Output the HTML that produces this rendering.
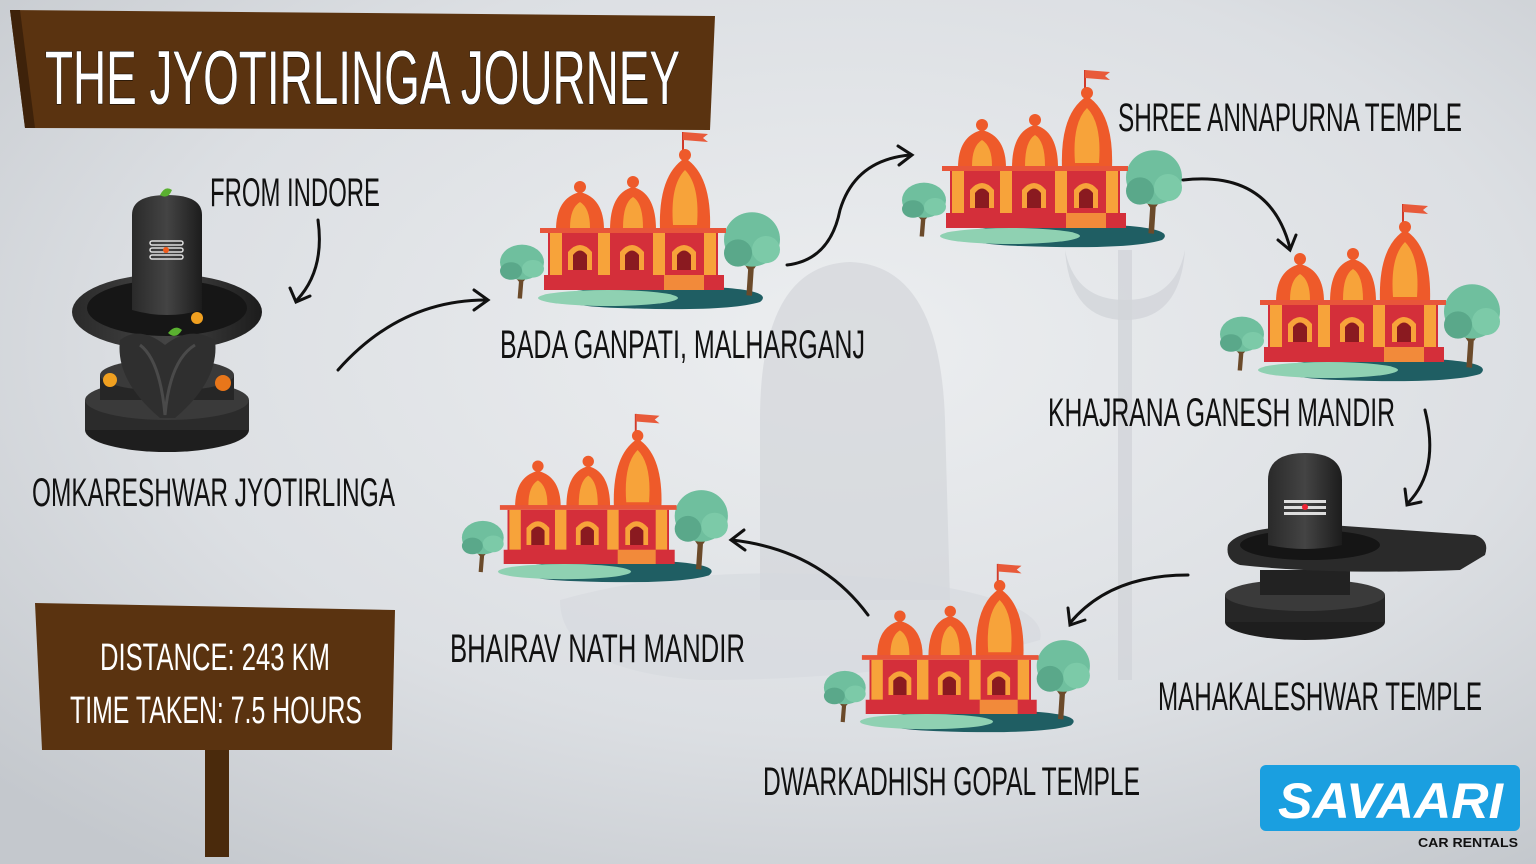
<!DOCTYPE html>
<html><head><meta charset="utf-8"><style>
html,body{margin:0;padding:0;width:1536px;height:864px;overflow:hidden}
svg{display:block}
text{font-family:"Liberation Sans",sans-serif;}
</style></head><body>
<svg width="1536" height="864" viewBox="0 0 1536 864" xmlns="http://www.w3.org/2000/svg">
<defs>
<radialGradient id="bg" cx="0.55" cy="0.4" r="0.75">
<stop offset="0" stop-color="#eceef0"/><stop offset="0.6" stop-color="#dcdfe3"/><stop offset="1" stop-color="#c4c8cd"/>
</radialGradient>
<linearGradient id="blk" x1="0" x2="1"><stop offset="0" stop-color="#2a2a2a"/><stop offset="0.5" stop-color="#444"/><stop offset="1" stop-color="#1c1c1c"/></linearGradient>
<g id="tree">
<path d="M18 55 L20 30 M20 40 L10 28 M20 38 L30 26" stroke="#6b4a2a" stroke-width="4" fill="none"/>
<ellipse cx="20" cy="22" rx="20" ry="16" fill="#6fbf9e"/>
<ellipse cx="10" cy="30" rx="10" ry="8" fill="#5aa88a"/>
<ellipse cx="30" cy="28" rx="10" ry="8" fill="#7ccaa8"/>
</g>
<g id="temple">
<path d="M60 165 Q120 150 230 158 Q275 162 262 172 Q230 182 120 178 Q60 176 60 165Z" fill="#1f5e63"/>
<ellipse cx="110" cy="168" rx="70" ry="8" fill="#8fd1b2"/>
<use href="#tree" transform="translate(2,108) scale(1.1)"/>
<use href="#tree" transform="translate(226,72) scale(1.4,1.7)"/>
<line x1="185" y1="2" x2="185" y2="25" stroke="#d03a2a" stroke-width="2"/>
<path d="M185 2 L210 4 L205 8 L210 12 L185 10Z" fill="#e85a3a"/>
<path d="M162 100 Q160 45 187 28 Q214 45 212 100Z" fill="#ee5a2a"/>
<path d="M175 95 Q172 55 187 40 Q202 55 199 95Z" fill="#f7a33a"/>
<circle cx="187" cy="25" r="6" fill="#ee5a2a"/>
<path d="M58 100 Q58 68 82 62 Q106 68 106 100Z" fill="#ee5a2a"/>
<path d="M112 100 Q112 63 135 57 Q158 63 158 100Z" fill="#ee5a2a"/>
<path d="M72 98 Q72 78 82 72 Q92 78 92 98Z" fill="#f7a33a"/>
<path d="M125 98 Q125 73 135 67 Q145 73 145 98Z" fill="#f7a33a"/>
<circle cx="82" cy="57" r="6" fill="#ee5a2a"/><circle cx="135" cy="52" r="6" fill="#ee5a2a"/>
<rect x="42" y="98" width="186" height="5" fill="#e8553a"/>
<rect x="50" y="103" width="170" height="45" fill="#d42f3a"/>
<rect x="52" y="103" width="12" height="42" fill="#f7a33a"/>
<rect x="100" y="103" width="12" height="42" fill="#f7a33a"/>
<rect x="155" y="103" width="12" height="42" fill="#f7a33a"/>
<rect x="206" y="103" width="12" height="42" fill="#f7a33a"/>
<path d="M70 140 L70 122 Q82 108 94 122 L94 140Z" fill="#f7a33a"/>
<path d="M122 140 L122 122 Q134 108 146 122 L146 140Z" fill="#f7a33a"/>
<path d="M174 140 L174 122 Q186 108 198 122 L198 140Z" fill="#f7a33a"/>
<path d="M75 140 L75 125 Q82 116 89 125 L89 140Z" fill="#8a1a20"/>
<path d="M127 140 L127 125 Q134 116 141 125 L141 140Z" fill="#8a1a20"/>
<path d="M179 140 L179 125 Q186 116 193 125 L193 140Z" fill="#8a1a20"/>
<rect x="46" y="145" width="180" height="15" fill="#d42f3a"/>
<rect x="166" y="145" width="40" height="15" fill="#f28a3a"/>
</g>
</defs>
<rect width="1536" height="864" fill="url(#bg)"/>
<!-- background silhouettes -->
<path d="M760 420 Q760 265 850 262 Q940 265 945 420 L950 600 L760 600Z" fill="#d3d6da" opacity="0.7"/>
<path d="M560 600 Q700 560 900 580 Q1050 600 1040 640 Q900 680 700 680 Q560 670 560 600Z" fill="#d6d9dd" opacity="0.6"/>
<rect x="1118" y="250" width="14" height="430" fill="#d2d5d9" opacity="0.8"/>
<path d="M1065 250 Q1070 320 1125 320 Q1180 320 1185 250 Q1175 300 1125 300 Q1075 300 1065 250Z" fill="#d2d5d9" opacity="0.8"/>
<!-- title board -->
<path d="M10 10 L715 16 L710 130 L25 128Z" fill="#5a3310"/>
<path d="M10 10 L20 10 L35 128 L25 128Z" fill="#3e220a"/>
<text x="45" y="104" font-size="76" fill="#fff" textLength="635" lengthAdjust="spacingAndGlyphs" stroke="#000" stroke-width="1" paint-order="stroke">THE JYOTIRLINGA JOURNEY</text>
<!-- lingam 1 -->
<ellipse cx="167" cy="430" rx="82" ry="22" fill="#1e1e1e"/>
<rect x="85" y="400" width="164" height="30" fill="#2b2b2b"/>
<ellipse cx="167" cy="400" rx="82" ry="20" fill="#3a3a3a"/>
<rect x="100" y="375" width="134" height="25" fill="#262626"/>
<ellipse cx="167" cy="375" rx="67" ry="16" fill="#3a3a3a"/>
<ellipse cx="167" cy="312" rx="95" ry="38" fill="url(#blk)"/>
<ellipse cx="167" cy="308" rx="80" ry="28" fill="#161616"/>
<path d="M120 340 Q140 325 165 345 Q190 325 215 340 Q220 380 175 418 L160 418 Q115 380 120 340Z" fill="#2f2f2f"/>
<path d="M140 345 Q160 360 165 415 Q170 360 195 345" fill="none" stroke="#4a4a4a" stroke-width="3"/>
<path d="M132 310 L132 215 Q132 195 167 195 Q202 195 202 215 L202 310 Q167 320 132 310Z" fill="url(#blk)"/>
<rect x="150" y="241" width="33" height="4" rx="2" fill="none" stroke="#ddd" stroke-width="1.5"/>
<rect x="150" y="248" width="33" height="4" rx="2" fill="none" stroke="#ddd" stroke-width="1.5"/>
<rect x="150" y="255" width="33" height="4" rx="2" fill="none" stroke="#ddd" stroke-width="1.5"/>
<circle cx="166" cy="250" r="3" fill="#f05a1a"/>
<path d="M160 195 Q165 185 172 190 Q168 200 160 195Z" fill="#5ab030"/>
<circle cx="197" cy="318" r="6" fill="#f0a020"/><circle cx="110" cy="380" r="7" fill="#f0a020"/><circle cx="223" cy="383" r="8" fill="#e8761a"/>
<path d="M168 333 Q175 324 182 330 Q176 340 168 333Z" fill="#5ab030"/>
<!-- lingam 2 -->
<ellipse cx="1305" cy="622" rx="80" ry="18" fill="#1e1e1e"/>
<rect x="1225" y="595" width="160" height="27" fill="#262626"/>
<ellipse cx="1305" cy="595" rx="80" ry="16" fill="#3a3a3a"/>
<rect x="1260" y="570" width="90" height="25" fill="#222"/>
<path d="M1228 545 Q1240 525 1330 525 L1475 535 Q1490 540 1485 555 L1460 570 Q1330 575 1240 565 Q1225 560 1228 545Z" fill="#2a2a2a"/>
<ellipse cx="1310" cy="545" rx="70" ry="15" fill="#151515"/>
<path d="M1268 545 L1268 480 Q1268 453 1305 453 Q1342 453 1342 480 L1342 545 Q1305 553 1268 545Z" fill="url(#blk)"/>
<rect x="1284" y="500" width="42" height="3" fill="#ddd"/><rect x="1284" y="506" width="42" height="3" fill="#ddd"/><rect x="1284" y="512" width="42" height="3" fill="#ddd"/>
<circle cx="1305" cy="507" r="3" fill="#e23"/>
<!-- temples -->
<use href="#temple" transform="translate(498,130)"/>
<use href="#temple" transform="translate(900,68)"/>
<use href="#temple" transform="translate(1218,202)"/>
<use href="#temple" transform="translate(460,412) scale(0.95)"/>
<use href="#temple" transform="translate(822,562) scale(0.95)"/>
<!-- arrows -->
<g stroke="#111" stroke-width="3" fill="none" stroke-linecap="round">
<path d="M318 220 Q325 270 297 300"/><path d="M290 288 L296 302 L310 296"/>
<path d="M338 370 Q400 300 486 300"/><path d="M474 290 L488 300 L474 310"/>
<path d="M787 265 Q830 260 840 210 Q855 160 910 155"/><path d="M898 146 L912 155 L899 165"/>
<path d="M1183 180 Q1270 170 1290 248"/><path d="M1278 240 L1290 250 L1296 235"/>
<path d="M1425 410 Q1440 470 1408 503"/><path d="M1405 489 L1407 505 L1421 502"/>
<path d="M1188 575 Q1110 575 1070 623"/><path d="M1068 608 L1070 625 L1085 620"/>
<path d="M868 615 Q820 550 732 540"/><path d="M744 530 L731 540 L745 550"/>
</g>
<!-- labels -->
<g fill="#111" font-size="40">
<text x="210" y="206" textLength="170" lengthAdjust="spacingAndGlyphs">FROM INDORE</text>
<text x="32" y="506" textLength="363" lengthAdjust="spacingAndGlyphs">OMKARESHWAR JYOTIRLINGA</text>
<text x="500" y="358" textLength="365" lengthAdjust="spacingAndGlyphs">BADA GANPATI, MALHARGANJ</text>
<text x="1118" y="131" textLength="344" lengthAdjust="spacingAndGlyphs">SHREE ANNAPURNA TEMPLE</text>
<text x="1048" y="426" textLength="347" lengthAdjust="spacingAndGlyphs">KHAJRANA GANESH MANDIR</text>
<text x="1158" y="710" textLength="324" lengthAdjust="spacingAndGlyphs">MAHAKALESHWAR TEMPLE</text>
<text x="763" y="795" textLength="377" lengthAdjust="spacingAndGlyphs">DWARKADHISH GOPAL TEMPLE</text>
<text x="450" y="662" textLength="295" lengthAdjust="spacingAndGlyphs">BHAIRAV NATH MANDIR</text>
</g>
<!-- distance sign -->
<rect x="205" y="745" width="24" height="112" fill="#4a2a0c"/>
<path d="M35 603 L395 610 L392 750 L42 750Z" fill="#5a3310"/>
<g fill="#fff" font-size="38">
<text x="100" y="670" textLength="230" lengthAdjust="spacingAndGlyphs">DISTANCE: 243 KM</text>
<text x="70" y="723" textLength="292" lengthAdjust="spacingAndGlyphs">TIME TAKEN: 7.5 HOURS</text>
</g>
<!-- logo -->
<rect x="1260" y="765" width="260" height="66" rx="6" fill="#1a9fe0"/>
<text x="1278" y="818" font-size="50" font-weight="bold" font-style="italic" fill="#fff" textLength="225" lengthAdjust="spacingAndGlyphs">SAVAARI</text>
<text x="1418" y="847" font-size="13" font-weight="bold" fill="#111" textLength="100" lengthAdjust="spacingAndGlyphs">CAR RENTALS</text>
</svg>
</body></html>
